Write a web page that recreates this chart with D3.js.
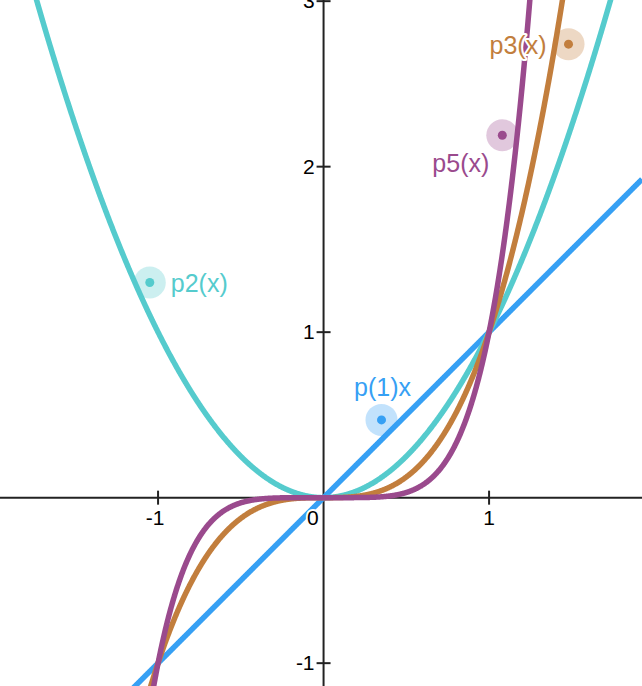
<!DOCTYPE html>
<html><head><meta charset="utf-8">
<script src="https://cdn.jsdelivr.net/npm/d3@7"></script>
<style>html,body{margin:0;padding:0;background:#fff;}svg{display:block;}</style>
</head><body>
<script>
// Functions plotted: p(x) = x^n
const seriesNames = ["p(1)x", "p2(x)", "p3(x)", "p5(x)"];
const exponents = [1, 2, 3, 5];
const colors = ["#36a0f4", "#55cbcd", "#c27e3d", "#9a4a8d"];
// Labelled points (x, y) for each series
const pointX = [0.35, -1.05, 1.48, 1.08];
const pointY = [0.47, 1.30, 2.74, 2.19];
const xTicks = [-1, 0, 1];
const yTicks = [-1, 1, 2, 3];

const W = 642, H = 686;
const x = d3.scaleLinear().domain([-1.955, 1.924]).range([0, W]);
const y = d3.scaleLinear().domain([3.007, -1.138]).range([0, H]);

const svg = d3.select("body").append("svg").attr("width", W).attr("height", H);
const font = "'Liberation Sans', Arial, sans-serif";

// axes
svg.append("line").attr("x1", 0).attr("x2", W).attr("y1", y(0)).attr("y2", y(0))
  .attr("stroke", "#222").attr("stroke-width", 2);
svg.append("line").attr("x1", x(0)).attr("x2", x(0)).attr("y1", 0).attr("y2", H)
  .attr("stroke", "#222").attr("stroke-width", 2);
xTicks.filter(d => d !== 0).forEach(d => {
  svg.append("line").attr("x1", x(d)).attr("x2", x(d)).attr("y1", y(0) - 7).attr("y2", y(0) + 7)
    .attr("stroke", "#222").attr("stroke-width", 2);
});
yTicks.forEach(d => {
  svg.append("line").attr("x1", x(0) - 7).attr("x2", x(0) + 7).attr("y1", y(d)).attr("y2", y(d))
    .attr("stroke", "#222").attr("stroke-width", 2);
});

// curves
const samples = d3.range(0, 1601).map(i => -1.955 + i * (1.924 + 1.955) / 1600);
const line = d3.line().x(d => x(d[0])).y(d => y(d[1]));
exponents.forEach((n, i) => {
  const pts = samples.map(v => [v, Math.pow(v, n)]).filter(p => p[1] > -3 && p[1] < 6);
  svg.append("path").attr("d", line(pts)).attr("fill", "none")
    .attr("stroke", colors[i]).attr("stroke-width", 5.5).attr("stroke-linejoin", "round");
});

// tick labels with halo
function haloText(tx, ty, txt, anchor, color, size) {
  const t = svg.append("text").attr("x", tx).attr("y", ty).attr("text-anchor", anchor)
    .attr("font-family", font).attr("font-size", size).attr("fill", color)
    .attr("stroke", "#fff").attr("stroke-width", 4).attr("paint-order", "stroke")
    .attr("stroke-linejoin", "round").text(txt);
  return t;
}
xTicks.forEach(d => {
  if (d === 0) haloText(x(0) - 5, y(0) + 27, "0", "end", "#000", 21);
  else haloText(x(d) - (d < 0 ? 3 : 0), y(0) + 27, d3.format("")(d).replace("−", "-"), "middle", "#000", 21);
});
yTicks.forEach(d => {
  haloText(x(0) - 9, y(d) + 7, d3.format("")(d).replace("−", "-"), "end", "#000", 21);
});

// labelled points
const labelOffsets = [[1, -24, "middle"], [21, 9, "start"], [-22, 10, "end"], [-13, 37, "end"]];
seriesNames.forEach((name, i) => {
  const cx = x(pointX[i]), cy = y(pointY[i]);
  svg.append("circle").attr("cx", cx).attr("cy", cy).attr("r", 16)
    .attr("fill", colors[i]).attr("opacity", 0.3);
  svg.append("circle").attr("cx", cx).attr("cy", cy).attr("r", 4.5).attr("fill", colors[i]);
  const o = labelOffsets[i];
  haloText(cx + o[0], cy + o[1], name, o[2], colors[i], 25);
});
</script>
</body></html>
